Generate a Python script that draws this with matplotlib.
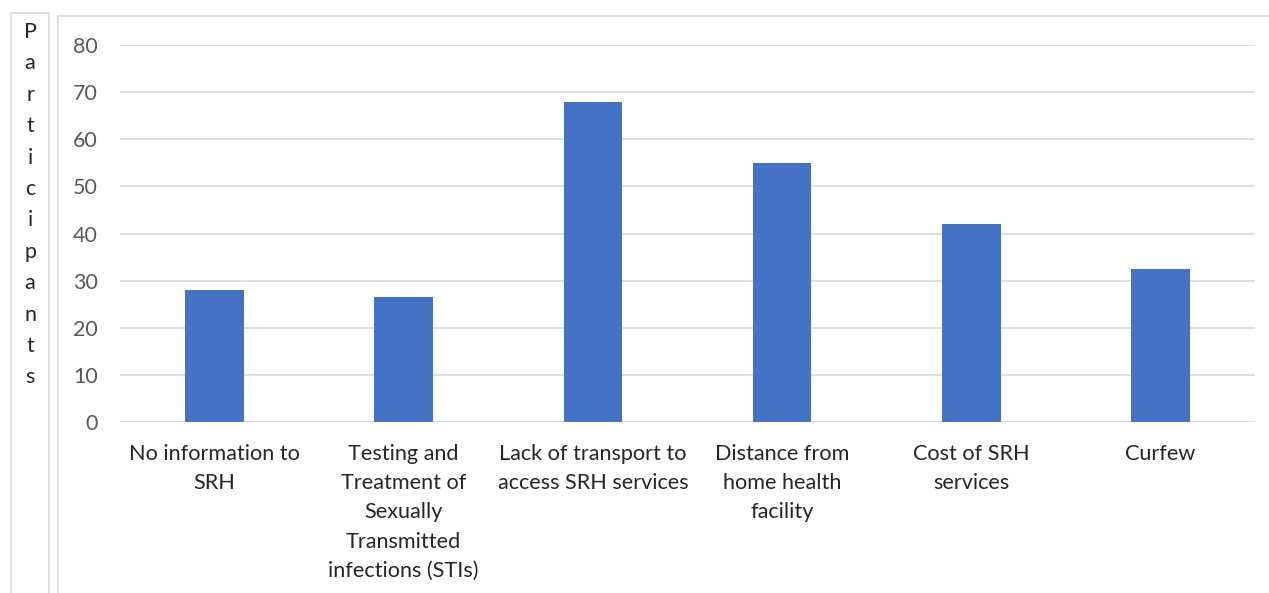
import matplotlib
matplotlib.use("Agg")
import matplotlib.pyplot as plt
from matplotlib.patches import Rectangle

categories = [
    "No information to\nSRH",
    "Testing and\nTreatment of\nSexually\nTransmitted\ninfections (STIs)",
    "Lack of transport to\naccess SRH services",
    "Distance from\nhome health\nfacility",
    "Cost of SRH\nservices",
    "Curfew",
]
participants = [28, 26.5, 68, 55, 42, 32.5]
yticks = [0, 10, 20, 30, 40, 50, 60, 70, 80]
ylabel = "Participants"

W, H = 1269, 593
plt.rcParams['font.family'] = ['Lato', 'DejaVu Sans']

fig = plt.figure(figsize=(W / 100, H / 100), dpi=100)
ax = fig.add_axes([120 / W, (H - 422) / H, (1255 - 120) / W, (422 - 45) / H])

x = range(len(categories))
ax.bar(x, participants, width=0.31, color='#4472C4', zorder=3)
ax.set_xlim(-0.5, len(categories) - 0.5)
ax.set_ylim(0, 80)
ax.set_yticks(yticks)
ax.set_xticks(list(x))
ax.set_xticklabels(categories, fontsize=15.6, color='#262626', linespacing=1.57)
ax.tick_params(axis='y', length=0, pad=16, labelsize=15.5, labelcolor='#595959')
ax.tick_params(axis='x', length=0, pad=16)
ax.grid(axis='y', color='#d9d9d9', linewidth=1.2, zorder=0)
for s in ax.spines.values():
    s.set_visible(False)

# chart border and y-label box
def box(x0, y0, x1, y1):
    fig.patches.append(Rectangle((x0 / W, 1 - y1 / H), (x1 - x0) / W, (y1 - y0) / H,
                                 transform=fig.transFigure, fill=False,
                                 edgecolor='#d9d9d9', linewidth=1.2))

box(58, 16, 1270, 605)
box(11, 13, 49, 605)

for i, ch in enumerate(ylabel):
    fig.text(30 / W, 1 - (32 + i * 31.4) / H, ch, ha='center', va='center',
             fontsize=15.5, color='#262626')

fig.savefig('out.png', dpi=100)
